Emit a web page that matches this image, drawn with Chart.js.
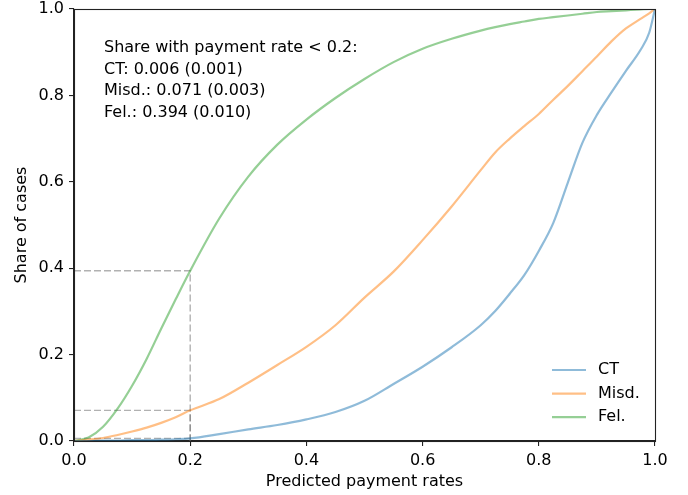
<!DOCTYPE html>
<html>
<head>
<meta charset="utf-8">
<script src="https://cdn.jsdelivr.net/npm/chart.js@4"></script>
<style>
  html, body { margin: 0; padding: 0; background: #fff; }
  #wrap { width: 688px; height: 495px; }
</style>
</head>
<body>
<div id="wrap"><canvas id="myChart"></canvas></div>
<script>
// predicted payment rate grid (x) shared by all three curves
const rates = [0, 0.025, 0.05, 0.075, 0.1, 0.125, 0.15, 0.175, 0.2, 0.25, 0.3, 0.35, 0.4, 0.45, 0.5,
    0.55, 0.6, 0.65, 0.7, 0.725, 0.75, 0.775, 0.8, 0.825, 0.85, 0.875, 0.9, 0.925, 0.95, 0.975, 0.99, 1.0];
const ctShare = [0, 0, 0.001, 0.001, 0.002, 0.002, 0.003, 0.004, 0.006, 0.016, 0.027, 0.037, 0.05, 0.067, 0.093,
    0.132, 0.172, 0.217, 0.268, 0.301, 0.341, 0.384, 0.44, 0.505, 0.598, 0.69, 0.755, 0.807, 0.857, 0.905, 0.945, 1.0];
const misdShare = [0, 0.003, 0.007, 0.014, 0.022, 0.031, 0.042, 0.055, 0.071, 0.097, 0.135, 0.176, 0.218, 0.268, 0.332,
    0.392, 0.465, 0.543, 0.627, 0.668, 0.70, 0.729, 0.757, 0.79, 0.822, 0.856, 0.89, 0.925, 0.955, 0.977, 0.99, 1.0];
const felShare = [0, 0.008, 0.033, 0.075, 0.128, 0.19, 0.26, 0.328, 0.394, 0.515, 0.612, 0.686, 0.744, 0.794, 0.838,
    0.877, 0.908, 0.931, 0.95, 0.958, 0.965, 0.971, 0.977, 0.981, 0.985, 0.989, 0.993, 0.995, 0.997, 0.999, 1.0, 1.0];

const seriesNames = ['CT', 'Misd.', 'Fel.'];
const threshold = 0.2;
const shareBelow = [0.006, 0.071, 0.394];
const shareSE = [0.001, 0.003, 0.010];
const tickValues = [0, 0.2, 0.4, 0.6, 0.8, 1.0];

const lineColors = [
    'rgba(31, 119, 180, 0.5)',
    'rgba(255, 127, 14, 0.5)',
    'rgba(44, 160, 44, 0.5)'
];
const FONT = 'DejaVu Sans';
const FONT_SIZE = 16;

function toPoints(xs, ys) {
    return xs.map((x, i) => ({ x: x, y: ys[i] }));
}

let datasets = [ctShare, misdShare, felShare].map((ys, i) => ({
    label: seriesNames[i],
    data: toPoints(rates, ys),
    borderColor: lineColors[i],
    borderWidth: 2.2,
    pointRadius: 0,
    cubicInterpolationMode: 'monotone',
    fill: false
}));

// dashed guides at the 0.2 threshold
shareBelow.forEach(v => {
    datasets.push({
        label: '_guide',
        data: [{ x: 0, y: v }, { x: threshold, y: v }, { x: threshold, y: 0 }],
        borderColor: 'rgba(100, 100, 100, 0.5)',
        borderWidth: 1.4,
        borderDash: [7, 3],
        pointRadius: 0,
        fill: false
    });
});

const annoLines = ['Share with payment rate < ' + threshold + ':'].concat(
    seriesNames.map((n, i) => n + ': ' + shareBelow[i].toFixed(3) + ' (' + shareSE[i].toFixed(3) + ')')
);

// box around plot + text block + legend
const extras = {
    id: 'extras',
    afterDraw(chart) {
        const ctx = chart.ctx;
        const a = chart.chartArea;
        ctx.save();
        ctx.strokeStyle = '#222';
        ctx.lineWidth = 1.1;
        ctx.strokeRect(Math.round(a.left) + 0.5, Math.round(a.top) + 0.5,
            Math.round(a.right - a.left), Math.round(a.bottom - a.top));

        ctx.fillStyle = '#000';
        ctx.font = FONT_SIZE + 'px "' + FONT + '"';
        ctx.textAlign = 'left';
        ctx.textBaseline = 'alphabetic';
        annoLines.forEach((t, i) => {
            ctx.fillText(t, a.left + 30, a.top + 43 + i * 21.7);
        });

        ctx.textBaseline = 'middle';
        seriesNames.forEach((n, i) => {
            const y = a.bottom - 71 + i * 23.6;
            ctx.strokeStyle = lineColors[i];
            ctx.lineWidth = 2.2;
            ctx.beginPath();
            ctx.moveTo(a.right - 103, y);
            ctx.lineTo(a.right - 69, y);
            ctx.stroke();
            ctx.fillText(n, a.right - 57, y);
        });
        ctx.restore();
    }
};

function noOverhang(s) {
    s.paddingTop = 0;
    s.paddingBottom = 0;
    s.paddingLeft = 0;
    s.paddingRight = 0;
}

const axisCommon = {
    type: 'linear',
    min: 0,
    max: 1,
    border: { display: true, color: '#222', width: 1.1 },
    grid: { drawOnChartArea: false, drawTicks: true, tickLength: 5, color: '#222', lineWidth: 1.1 },
    afterBuildTicks: scale => { scale.ticks = tickValues.map(v => ({ value: v })); },
    ticks: {
        color: '#000',
        font: { family: FONT, size: FONT_SIZE },
        padding: 5,
        callback: v => v.toFixed(1)
    }
};

new Chart(document.getElementById('myChart'), {
    type: 'line',
    data: { datasets: datasets },
    options: {
        responsive: true,
        maintainAspectRatio: false,
        animation: false,
        layout: { padding: { left: 0, right: 33, top: 9, bottom: 0 } },
        scales: {
            x: Object.assign({}, axisCommon, {
                afterFit: s => { s.height = 54; noOverhang(s); },
                title: {
                    display: true,
                    text: 'Predicted payment rates',
                    color: '#000',
                    font: { family: FONT, size: FONT_SIZE },
                    padding: { top: 0, bottom: 4 }
                }
            }),
            y: Object.assign({}, axisCommon, {
                afterFit: s => { s.width = 74; noOverhang(s); },
                title: {
                    display: true,
                    text: 'Share of cases',
                    color: '#000',
                    font: { family: FONT, size: FONT_SIZE },
                    padding: { top: 12, bottom: 0 }
                }
            })
        },
        plugins: {
            legend: { display: false },
            tooltip: { enabled: false }
        }
    },
    plugins: [extras]
});
</script>
</body>
</html>
